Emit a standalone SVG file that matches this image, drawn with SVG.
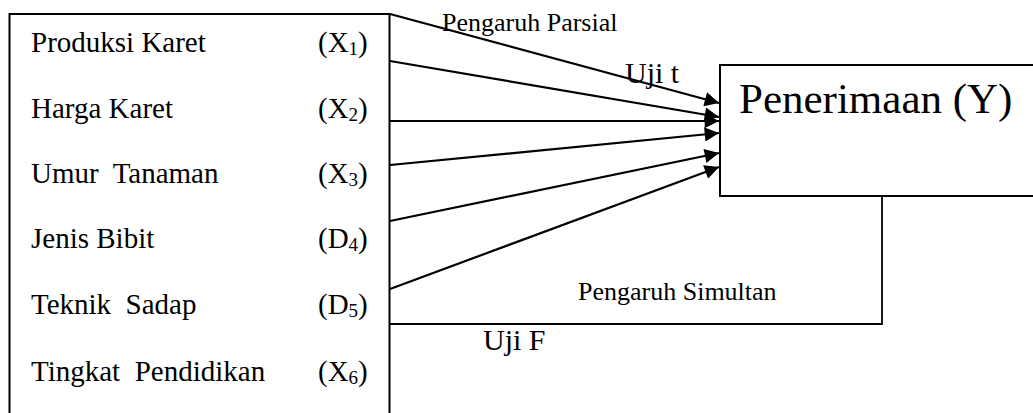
<svg xmlns="http://www.w3.org/2000/svg" width="1033" height="413" viewBox="0 0 1033 413">
<defs>
<style>
.box{fill:#fff;stroke:#000;stroke-width:2}
.ln{fill:none;stroke:#000;stroke-width:2.2}
.lbl{font-family:"Liberation Serif","Times New Roman",serif;font-size:29px;fill:#000}
.sub{font-size:19px}
.sm{font-family:"Liberation Serif","Times New Roman",serif;font-size:26px;fill:#000}
.mid{font-family:"Liberation Serif","Times New Roman",serif;font-size:30px;fill:#000}
.big{font-family:"Liberation Serif","Times New Roman",serif;font-size:43px;fill:#000}
</style>
<marker id="ah" viewBox="0 0 10 10" refX="10" refY="5" markerWidth="7.5" markerHeight="6.5" markerUnits="strokeWidth" orient="auto">
<path d="M0,0 L10,5 L0,10 z" fill="#000"/>
</marker>
</defs>
<rect width="1033" height="413" fill="#fff"/>
<g id="variables">
<rect class="box" x="9.5" y="14" width="380" height="420"/>
<text class="lbl" x="31" y="52">Produksi Karet</text>
<text class="lbl" x="318" y="52">(X<tspan class="sub" dy="3">1</tspan><tspan dy="-3">)</tspan></text>
<text class="lbl" x="31" y="118">Harga Karet</text>
<text class="lbl" x="318" y="118">(X<tspan class="sub" dy="3">2</tspan><tspan dy="-3">)</tspan></text>
<text class="lbl" x="31" y="183" xml:space="preserve">Umur  Tanaman</text>
<text class="lbl" x="318" y="183">(X<tspan class="sub" dy="3">3</tspan><tspan dy="-3">)</tspan></text>
<text class="lbl" x="31" y="248">Jenis Bibit</text>
<text class="lbl" x="318" y="248">(D<tspan class="sub" dy="3">4</tspan><tspan dy="-3">)</tspan></text>
<text class="lbl" x="31" y="314" xml:space="preserve">Teknik  Sadap</text>
<text class="lbl" x="318" y="314">(D<tspan class="sub" dy="3">5</tspan><tspan dy="-3">)</tspan></text>
<text class="lbl" x="31" y="381" xml:space="preserve">Tingkat  Pendidikan</text>
<text class="lbl" x="318" y="381">(X<tspan class="sub" dy="3">6</tspan><tspan dy="-3">)</tspan></text>
</g>
<g id="penerimaan">
<rect class="box" x="720" y="65" width="330" height="131"/>
<text class="big" x="739" y="113">Penerimaan (Y)</text>
</g>
<g id="connectors">
<line class="ln" x1="390" y1="14" x2="719" y2="103" marker-end="url(#ah)"/>
<line class="ln" x1="390" y1="61" x2="719" y2="117" marker-end="url(#ah)"/>
<line class="ln" x1="390" y1="121" x2="719" y2="121" marker-end="url(#ah)"/>
<line class="ln" x1="390" y1="165" x2="719" y2="133" marker-end="url(#ah)"/>
<line class="ln" x1="390" y1="221" x2="719" y2="153" marker-end="url(#ah)"/>
<line class="ln" x1="390" y1="289" x2="719" y2="167" marker-end="url(#ah)"/>
<polyline class="ln" style="stroke-width:1.8" points="882,196 882,324 390,324"/>
</g>
<g id="labels">
<text class="sm" x="442" y="31">Pengaruh Parsial</text>
<text class="mid" x="625" y="83">Uji t</text>
<text class="sm" x="578" y="300">Pengaruh Simultan</text>
<text class="mid" x="483" y="350">Uji F</text>
</g>
</svg>
